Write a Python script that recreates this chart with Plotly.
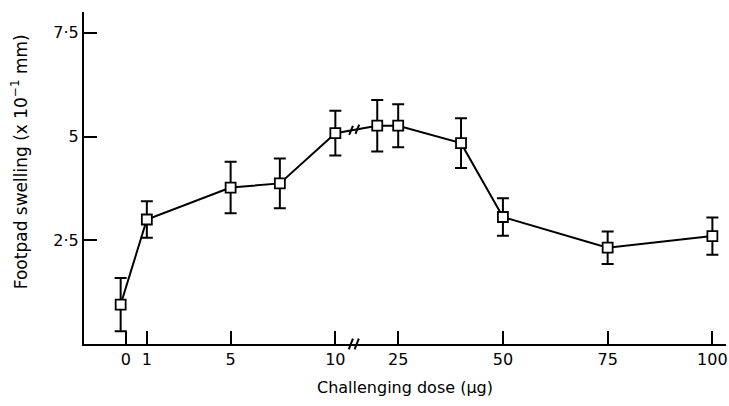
import plotly.graph_objects as go

# ---- data ----
dose = [-0.25, 1, 5, 7.35, 10, 20, 25, 40, 50, 75, 100]
swelling = [0.95, 3.0, 3.77, 3.87, 5.08, 5.26, 5.26, 4.84, 3.06, 2.32, 2.60]
err = [0.64, 0.44, 0.62, 0.60, 0.54, 0.62, 0.52, 0.60, 0.45, 0.39, 0.45]

tick_doses = [0, 1, 5, 10, 25, 50, 75, 100]
tick_text = ["0", "1", "5", "10", "25", "50", "75", "100"]
y_ticks = [2.5, 5, 7.5]
y_text = ["2·5", "5", "7·5"]

# broken axis: 0-10 on a linear scale, 20-100 compressed (factor 0.2)
BREAK = 11.0


def pos(d):
    if d <= 10.5:
        return d
    return 13 + (d - 25) * 0.2


xp = [pos(d) for d in dose]

FONT = "DejaVu Sans"

fig = go.Figure()
fig.add_trace(go.Scatter(
    x=xp, y=swelling, mode="lines+markers",
    line=dict(color="black", width=2),
    marker=dict(symbol="square", size=10, color="white",
                line=dict(color="black", width=1.8)),
    error_y=dict(type="data", array=err, visible=True,
                 color="black", thickness=2, width=6),
    showlegend=False, cliponaxis=False,
))

shapes = []
# break marks on the x axis
for dx in (-0.14, 0.14):
    cx = BREAK - 0.12 + dx
    shapes.append(dict(type="line", xref="x", yref="paper",
                       x0=cx - 0.1, x1=cx + 0.1, y0=-0.016, y1=0.016,
                       line=dict(color="black", width=2)))
# break marks on the data line (between 10 and 20)
x_a, y_a = pos(10), swelling[4]
x_b, y_b = pos(20), swelling[5]
for cx in (10.75, 11.05):
    cy = y_a + (y_b - y_a) * (cx - x_a) / (x_b - x_a)
    shapes.append(dict(type="line", xref="x", yref="y",
                       x0=cx - 0.09, x1=cx + 0.09, y0=cy - 0.11, y1=cy + 0.11,
                       line=dict(color="black", width=2)))

fig.update_layout(
    width=729, height=406,
    margin=dict(l=84, r=1, t=12, b=62),
    paper_bgcolor="white", plot_bgcolor="white",
    font=dict(family=FONT, color="black", size=16),
    shapes=shapes,
    annotations=[dict(
        text="Footpad swelling (x 10<sup>−1</sup> mm)",
        xref="paper", yref="paper", x=-0.1, y=0.55,
        xanchor="center", yanchor="middle", textangle=-90,
        showarrow=False, font=dict(size=17, family=FONT),
    )],
    xaxis=dict(
        range=[-2, 28.65], showgrid=False, zeroline=False,
        showline=True, linecolor="black", linewidth=2,
        tickmode="array", tickvals=[pos(d) for d in tick_doses],
        ticktext=tick_text, ticks="inside", ticklen=13, tickwidth=2,
        tickcolor="black", tickfont=dict(size=16, family=FONT),
        ticklabeloverflow="allow",
        title=dict(text="Challenging dose (μg)", font=dict(size=16, family=FONT),
                   standoff=14),
    ),
    yaxis=dict(
        range=[0, 8], showgrid=False, zeroline=False,
        showline=True, linecolor="black", linewidth=2,
        tickmode="array", tickvals=y_ticks, ticktext=y_text,
        ticks="inside", ticklen=13, tickwidth=2, tickcolor="black",
        tickfont=dict(size=16, family=FONT),
    ),
)

fig.write_html("out.html")
